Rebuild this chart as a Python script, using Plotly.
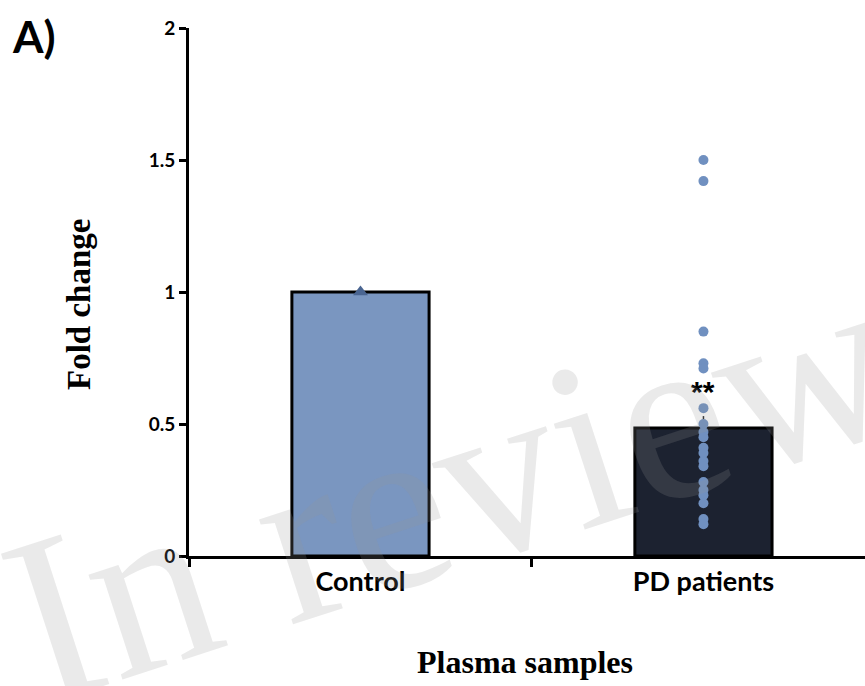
import plotly.graph_objects as go

categories = ["Control", "PD patients"]
bar_values = [1.0, 0.485]
bar_err_upper = [0.0, 0.045]
control_points = [1.0]
pd_points = [1.50, 1.42, 0.85, 0.73, 0.71, 0.56, 0.50, 0.47, 0.45, 0.41,
             0.39, 0.36, 0.34, 0.28, 0.25, 0.23, 0.20, 0.14, 0.12]
y_tickvals = [0, 0.5, 1, 1.5, 2]
y_ticktext = ["0", "0.5", "1", "1.5", "2"]

L, T, B, W, H = 189, 28, 130, 865, 686
PW, PH = W - L, H - T - B


def px(x):
    return (x - L) / PW


def py(y):
    return (H - B - y) / PH


fig = go.Figure()
fig.add_trace(go.Bar(
    x=categories, y=bar_values, width=0.4,
    marker=dict(color=["#7a96c0", "#1c2230"], line=dict(color="black", width=3)),
    error_y=dict(type="data", symmetric=False, array=bar_err_upper,
                 arrayminus=[0, 0], color="#222", thickness=1.5, width=0),
    showlegend=False,
))
fig.add_trace(go.Scatter(
    x=[categories[0]] * len(control_points), y=control_points, mode="markers",
    marker=dict(symbol="triangle-up", size=13, color="#4a6591"), showlegend=False,
))
fig.add_trace(go.Scatter(
    x=[categories[1]] * len(pd_points), y=pd_points, mode="markers",
    marker=dict(symbol="circle", size=10, color="#7090c0"), showlegend=False,
))

fig.update_layout(
    width=W, height=H,
    margin=dict(l=L, r=0, t=T, b=B),
    plot_bgcolor="white", paper_bgcolor="white",
    xaxis=dict(
        range=[-0.5, 1.471], showline=True, linecolor="black", linewidth=3,
        ticks="outside", tickson="boundaries", ticklen=8, tickwidth=3, tickcolor="black",
        tickfont=dict(family="Lato", size=27, color="black", weight="bold"),
        showgrid=False, zeroline=False,
    ),
    yaxis=dict(
        range=[0, 2], tickvals=y_tickvals, ticktext=y_ticktext,
        showline=True, linecolor="black", linewidth=3,
        ticks="outside", ticklen=7, tickwidth=3, tickcolor="black",
        tickfont=dict(family="Lato", size=19, color="black", weight="bold"),
        showgrid=False, zeroline=False,
    ),
    annotations=[
        dict(text="A)", xref="paper", yref="paper", x=px(10), y=py(8),
             xanchor="left", yanchor="top", showarrow=False,
             font=dict(family="Lato", size=44, color="black", weight="bold")),
        dict(text="Fold change", xref="paper", yref="paper", x=px(79), y=py(305),
             textangle=-90, showarrow=False, xanchor="center", yanchor="middle",
             font=dict(family="Liberation Serif", size=33, color="black", weight="bold")),
        dict(text="Plasma samples", xref="paper", yref="paper", x=px(525), y=py(662),
             showarrow=False, xanchor="center", yanchor="middle",
             font=dict(family="Liberation Serif", size=32, color="black", weight="bold")),
        dict(text="**", x=categories[1], y=0.625, xref="x", yref="y", showarrow=False,
             font=dict(family="Liberation Sans", size=30, color="black", weight="bold")),
        dict(text="In review", xref="paper", yref="paper", x=px(450), y=py(488),
             textangle=-18, showarrow=False, xanchor="center", yanchor="middle",
             font=dict(family="Liberation Serif", size=240, color="rgba(150,150,150,0.2)")),
    ],
)

fig.write_html("out.html", config={"displayModeBar": False},
               post_script="document.body.style.margin='0px';")
